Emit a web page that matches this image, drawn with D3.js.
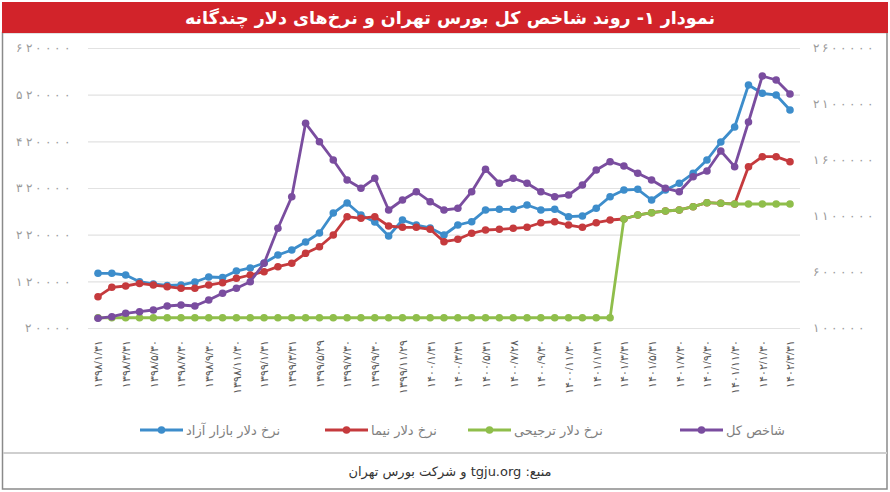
<!DOCTYPE html>
<html>
<head>
<meta charset="utf-8">
<script src="https://cdn.jsdelivr.net/npm/d3@7"></script>
<style>
body { margin: 0; background: #fff; }
svg { display: block; font-family: "DejaVu Sans", sans-serif; }
</style>
</head>
<body>
<div id="chart"></div>
<script>
// monthly dates (only every other one is labelled on the axis)
var months = [
    "۱۳۹۸/۱/۳۱", "۱۳۹۸/۲/۳۱", "۱۳۹۸/۳/۳۱", "۱۳۹۸/۴/۳۱", "۱۳۹۸/۵/۳۰", "۱۳۹۸/۶/۳۱",
    "۱۳۹۸/۷/۳۰", "۱۳۹۸/۸/۳۰", "۱۳۹۸/۹/۳۰", "۱۳۹۸/۱۰/۳۰", "۱۳۹۸/۱۱/۳۰", "۱۳۹۸/۱۲/۲۹",
    "۱۳۹۹/۱/۳۱", "۱۳۹۹/۲/۳۱", "۱۳۹۹/۳/۳۱", "۱۳۹۹/۴/۳۱", "۱۳۹۹/۵/۲۹", "۱۳۹۹/۶/۳۱",
    "۱۳۹۹/۷/۳۰", "۱۳۹۹/۸/۳۰", "۱۳۹۹/۹/۳۰", "۱۳۹۹/۱۰/۳۰", "۱۳۹۹/۱۱/۲۹", "۱۳۹۹/۱۲/۳۰",
    "۱۴۰۰/۱/۳۱", "۱۴۰۰/۲/۳۱", "۱۴۰۰/۳/۳۱", "۱۴۰۰/۴/۳۱", "۱۴۰۰/۵/۳۱", "۱۴۰۰/۶/۳۱",
    "۱۴۰۰/۷/۲۸", "۱۴۰۰/۸/۳۰", "۱۴۰۰/۹/۳۰", "۱۴۰۰/۱۰/۳۰", "۱۴۰۰/۱۱/۳۰", "۱۴۰۰/۱۲/۲۹",
    "۱۴۰۱/۱/۳۱", "۱۴۰۱/۲/۳۱", "۱۴۰۱/۳/۳۱", "۱۴۰۱/۴/۳۱", "۱۴۰۱/۵/۳۱", "۱۴۰۱/۶/۳۱",
    "۱۴۰۱/۷/۳۰", "۱۴۰۱/۸/۳۰", "۱۴۰۱/۹/۳۰", "۱۴۰۱/۱۰/۳۰", "۱۴۰۱/۱۱/۳۰", "۱۴۰۱/۱۲/۲۹",
    "۱۴۰۲/۱/۳۰", "۱۴۰۲/۲/۳۱", "۱۴۰۲/۳/۳۱"
];

// نرخ دلار بازار آزاد (rial, left axis)
var freeRate = [137200, 137200, 133600, 119200, 114300, 111100, 112100, 118600, 129300, 128200,
    142100, 148600, 159300, 176400, 187100, 204300, 223600, 266400, 287900, 262100,
    247100, 217100, 251400, 240700, 234300, 219300, 240700, 247800, 272900, 274400,
    274400, 283600, 272900, 274400, 258500, 260000, 276500, 301400, 315700, 317200,
    294300, 315700, 330100, 351500, 380000, 418600, 450700, 540700, 522900, 519300, 487100];

// نرخ دلار نیما (rial, left axis)
var nimaRate = [87100, 107200, 110000, 115400, 112100, 108500, 105100, 105100, 112100, 117100,
    126500, 133600, 140600, 151400, 158600, 180100, 194200, 219300, 258500, 255100,
    258500, 238600, 235800, 235800, 231500, 204900, 210100, 222900, 230000, 231500,
    233600, 235800, 245600, 247800, 240700, 235800, 245600, 251400, 253600, 262100,
    267100, 270700, 272900, 279900, 288500, 287200, 285700, 365600, 387100, 387100, 376400];

// نرخ دلار ترجیحی (rial, left axis)
var prefRate = [42000, 42000, 42000, 42000, 42000, 42000, 42000, 42000, 42000, 42000,
    42000, 42000, 42000, 42000, 42000, 42000, 42000, 42000, 42000, 42000,
    42000, 42000, 42000, 42000, 42000, 42000, 42000, 42000, 42000, 42000,
    42000, 42000, 42000, 42000, 42000, 42000, 42000, 42000, 253600, 262100,
    267100, 270700, 272900, 279900, 288500, 287200, 285700, 285700, 285700, 285700, 285700];

// شاخص کل (right axis)
var indexVal = [186600, 200900, 231300, 245500, 260700, 296400, 305400, 296400, 350000, 409800,
    454500, 513400, 677700, 990200, 1272300, 1927700, 1763400, 1600000, 1421400, 1347300,
    1436600, 1153600, 1242900, 1317000, 1227700, 1153600, 1168800, 1317000, 1517000, 1392000,
    1436600, 1392000, 1317000, 1272300, 1287500, 1376800, 1510700, 1584800, 1546400, 1481300,
    1421400, 1347300, 1317000, 1450900, 1501800, 1680400, 1540200, 1939300, 2350000, 2314300, 2189300];

var leftTicks = [20000, 120000, 220000, 320000, 420000, 520000, 620000];
var rightTicks = [100000, 600000, 1100000, 1600000, 2100000, 2600000];
var tickLabels = months.filter(function(d, i){ return i % 2 === 0; });

var seriesNames = ["نرخ دلار بازار آزاد", "نرخ دلار نیما", "نرخ دلار ترجیحی", "شاخص کل"];
var titleText = "نمودار ۱- روند شاخص کل بورس تهران و نرخ‌های دلار چندگانه";
var sourceText = "منبع: tgju.org و شرکت بورس تهران";

var dims = { width: 890, height: 492 };

function fa(n){
    return String(n).replace(/\d/g, function(d){ return "۰۱۲۳۴۵۶۷۸۹"[d]; });
}

var svg = d3.select('#chart')
    .append('svg')
    .attr('width', dims.width)
    .attr('height', dims.height);

// frame
svg.append('rect')
    .attr('x', 0).attr('y', 0)
    .attr('width', dims.width).attr('height', dims.height)
    .attr('fill', '#fff');
svg.append('rect')
    .attr('x', 2.5).attr('y', 32.5)
    .attr('width', 884.5).attr('height', 456.5)
    .attr('fill', 'none')
    .attr('stroke', '#8a8a8a')
    .attr('stroke-width', 1.5);
svg.append('line')
    .attr('x1', 3).attr('x2', 887)
    .attr('y1', 453).attr('y2', 453)
    .attr('stroke', '#cfcfcf')
    .attr('stroke-width', 2);
svg.append('rect')
    .attr('x', 2).attr('y', 2)
    .attr('width', 886).attr('height', 31)
    .attr('fill', '#d2232a');

svg.append('text')
    .attr('x', 450).attr('y', 24)
    .attr('text-anchor', 'middle')
    .attr('direction', 'rtl')
    .attr('fill', '#fff')
    .style('font-weight', 'bold')
    .style('font-size', '17.5px')
    .text(titleText);

svg.append('text')
    .attr('x', 450).attr('y', 476)
    .attr('text-anchor', 'middle')
    .attr('direction', 'rtl')
    .attr('fill', '#333')
    .style('font-size', '13px')
    .text(sourceText);

// scales
var x = d3.scalePoint().domain(months).range([98, 790]);
var yL = d3.scaleLinear().domain([20000, 620000]).range([328, 48]);
var yR = d3.scaleLinear().domain([100000, 2600000]).range([328, 48]);

// gridlines
var grid = svg.append('g')
    .attr('transform', 'translate(88,0)')
    .call(d3.axisLeft(yL).tickValues(leftTicks).tickSize(-712).tickFormat(''));
grid.select('.domain').remove();
grid.selectAll('line').attr('stroke', '#e2e2e2').attr('stroke-width', 1.2);

// left axis (persian digits ignore letter-spacing, so stretch with textLength)
var axL = svg.append('g')
    .attr('transform', 'translate(70,0)')
    .call(d3.axisLeft(yL).tickValues(leftTicks).tickSize(0).tickPadding(0).tickFormat(fa));
axL.select('.domain').remove();
axL.selectAll('text')
    .attr('fill', '#9a9a9a')
    .style('font-size', '12px')
    .attr('lengthAdjust', 'spacing')
    .attr('textLength', function(d){ return String(d).length * 9; });

// right axis
var axR = svg.append('g')
    .attr('transform', 'translate(813,0)')
    .call(d3.axisRight(yR).tickValues(rightTicks).tickSize(0).tickPadding(0).tickFormat(fa));
axR.select('.domain').remove();
axR.selectAll('text')
    .attr('fill', '#9a9a9a')
    .style('font-size', '12px')
    .attr('lengthAdjust', 'spacing')
    .attr('textLength', function(d){ return String(d).length * 8.5; });

// x axis
var axX = svg.append('g')
    .attr('transform', 'translate(0,328)')
    .call(d3.axisBottom(x).tickValues(tickLabels).tickSize(0));
axX.select('.domain').remove();
axX.selectAll('text')
    .attr('transform', 'rotate(-90)')
    .attr('text-anchor', 'end')
    .attr('x', -12)
    .attr('y', 0)
    .attr('dy', '0.35em')
    .attr('fill', '#555')
    .style('font-size', '11px');

var series = [
    { name: seriesNames[0], values: freeRate, y: yL, color: '#3d8dcb' },
    { name: seriesNames[1], values: nimaRate, y: yL, color: '#c53a3d' },
    { name: seriesNames[2], values: prefRate, y: yL, color: '#8fbe4b' },
    { name: seriesNames[3], values: indexVal, y: yR, color: '#7a4d9f' }
];

var plot = svg.append('g');
series.forEach(function(s){
    var line = d3.line()
        .x(function(d, i){ return x(months[i]); })
        .y(function(d){ return s.y(d); });
    plot.append('path')
        .datum(s.values)
        .attr('d', line)
        .attr('fill', 'none')
        .attr('stroke', s.color)
        .attr('stroke-width', 2.8)
        .attr('stroke-linejoin', 'round');
    plot.append('g').selectAll('circle')
        .data(s.values)
        .enter()
        .append('circle')
        .attr('cx', function(d, i){ return x(months[i]); })
        .attr('cy', function(d){ return s.y(d); })
        .attr('r', 3.8)
        .attr('fill', s.color);
});

// legend
var legendX = [140, 325, 468, 680];
var legend = svg.append('g').attr('transform', 'translate(0,430)');
series.forEach(function(s, i){
    var g = legend.append('g').attr('transform', 'translate(' + legendX[i] + ',0)');
    g.append('line')
        .attr('x1', 0).attr('x2', 43)
        .attr('y1', 0).attr('y2', 0)
        .attr('stroke', s.color)
        .attr('stroke-width', 2.8);
    g.append('circle')
        .attr('cx', 21.5).attr('cy', 0)
        .attr('r', 3.8)
        .attr('fill', s.color);
    g.append('text')
        .attr('x', 46).attr('y', 0)
        .attr('dy', '0.35em')
        .attr('fill', '#808080')
        .style('font-size', '13px')
        .text(s.name);
});
</script>
</body>
</html>
